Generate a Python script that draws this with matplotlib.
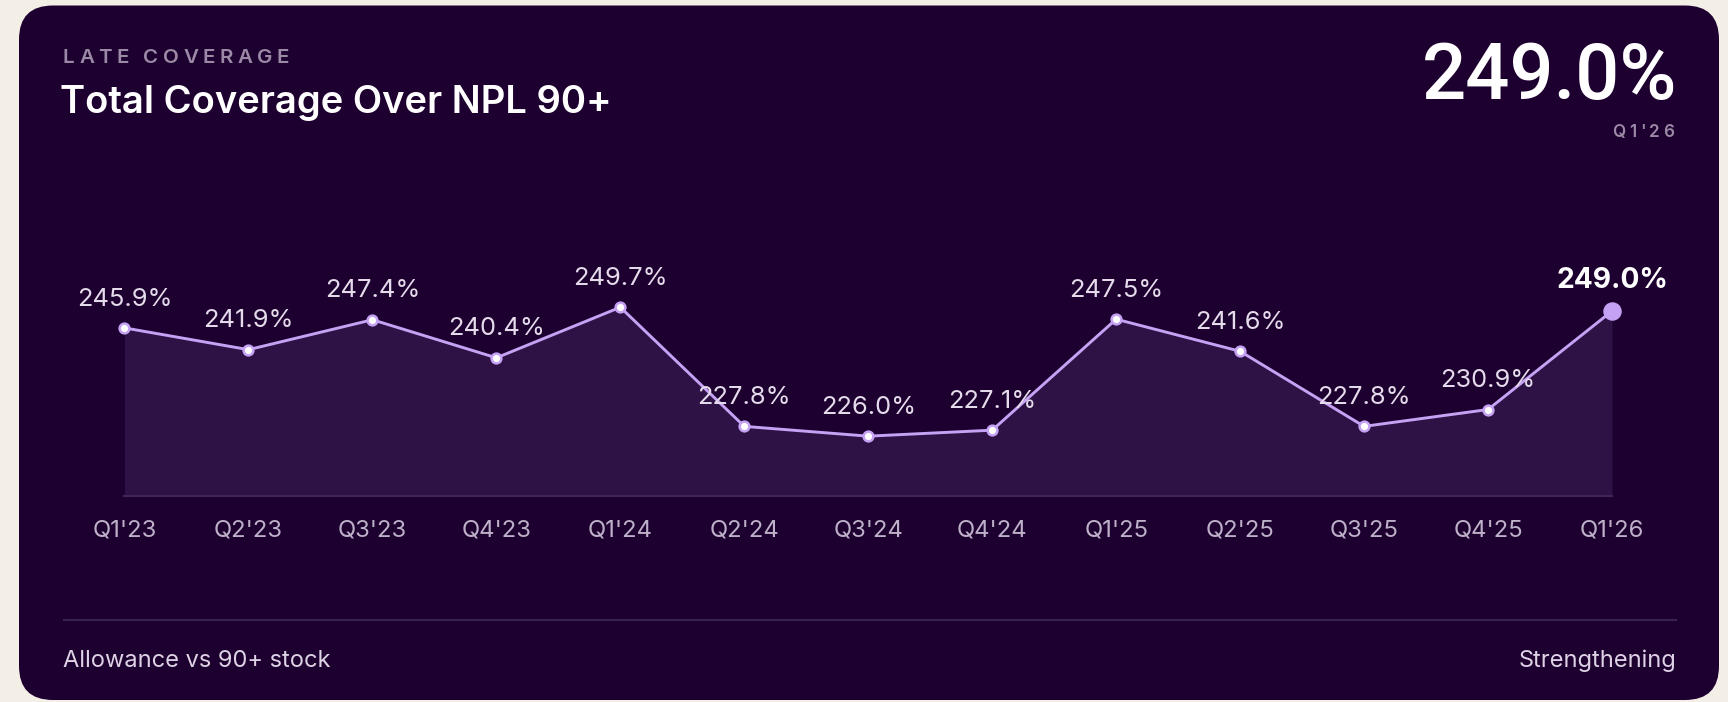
import matplotlib
matplotlib.use("Agg")
import matplotlib.pyplot as plt
from matplotlib.patches import FancyBboxPatch
from matplotlib import font_manager, ft2font

# ---------------- data ----------------
quarters = ["Q1'23", "Q2'23", "Q3'23", "Q4'23", "Q1'24", "Q2'24", "Q3'24",
            "Q4'24", "Q1'25", "Q2'25", "Q3'25", "Q4'25", "Q1'26"]
coverage = [245.9, 241.9, 247.4, 240.4, 249.7, 227.8, 226.0,
            227.1, 247.5, 241.6, 227.8, 230.9, 249.0]
eyebrow = "LATE COVERAGE"
title = "Total Coverage Over NPL 90+"
headline = "249.0%"
headline_period = "Q1'26"
footer_left = "Allowance vs 90+ stock"
footer_right = "Strengthening"

# ---------------- style ----------------
CREAM = "#F3EFE7"
CARD = "#1E0030"
FILL = "#2E1245"
LINE = "#C6A2F4"
BASE = "#3E2758"
TICK = "#BDB1C9"
VAL = "#E4DBEB"
MUTED = "#9A8AA6"
SEP = "#3A2350"
FOOT = "#DDD3E5"
FAM = ["Inter", "DejaVu Sans"]

W, H = 1728, 702
fig = plt.figure(figsize=(W / 100, H / 100), dpi=100, facecolor=CREAM)

# background (pixel coordinates)
bg = fig.add_axes([0, 0, 1, 1])
bg.set_xlim(0, W)
bg.set_ylim(H, 0)
bg.axis("off")
bg.add_patch(FancyBboxPatch((19, 5.5), 1719 - 19, 700 - 5.5,
                            boxstyle="round,pad=0,rounding_size=34",
                            fc=CARD, ec="none"))


def advances(s, size, weight="normal"):
    fp = font_manager.FontProperties(family=FAM, weight=weight, size=size)
    f = ft2font.FT2Font(font_manager.findfont(fp))
    f.set_size(size, 100)
    return [f.load_char(ord(c)).linearHoriAdvance / 65536 for c in s]


def tracked(x, y, s, size, total_w, color, ha="left", weight="normal"):
    adv = advances(s, size, weight)
    track = (total_w - sum(adv)) / (len(s) - 1)
    width = sum(adv) + track * (len(s) - 1)
    cx = x if ha == "left" else x - width
    for c, a in zip(s, adv):
        bg.text(cx, y, c, fontsize=size, color=color, family=FAM,
                weight=weight, va="baseline", ha="left")
        cx += a + track


tracked(63, 63.3, eyebrow, 14.8, 226, MUTED, weight="semibold")
bg.text(60, 113, title, fontsize=27.5, color="white", family=FAM,
        weight="semibold", va="baseline", ha="left")
bg.text(1677, 99, headline, fontsize=56, color="white",
        family=["Roboto", "DejaVu Sans"], weight="medium",
        va="baseline", ha="right")
tracked(1674, 136.7, headline_period, 12.3, 62, MUTED, ha="right", weight="semibold")

bg.plot([64, 1676], [620, 620], color=SEP, lw=1.5)
bg.text(63, 667, footer_left, fontsize=17, color=FOOT, family=FAM,
        va="baseline", ha="left")
bg.text(1676, 667, footer_right, fontsize=17, color=FOOT, family=FAM,
        va="baseline", ha="right")

# ---------------- chart ----------------
x0, x1 = 124.5, 1612
ytop, ybot = 160, 496
ymin = 215.0
px_per_unit = 5.44
ax = fig.add_axes([x0 / W, 1 - ybot / H, (x1 - x0) / W, (ybot - ytop) / H])
ax.set_facecolor("none")
xs = list(range(len(quarters)))
ax.set_xlim(0, len(quarters) - 1)
ax.set_ylim(ymin, ymin + (ybot - ytop) / px_per_unit)

ax.fill_between(xs, coverage, ymin, color=FILL, lw=0, zorder=1)
ax.axhline(ymin, color=BASE, lw=1.5, zorder=2, clip_on=False)
ax.plot(xs, coverage, color=LINE, lw=2.1, zorder=3, clip_on=False)
ax.plot(xs[:-1], coverage[:-1], ls="none", marker="o", ms=7, mfc="white",
        mec=LINE, mew=1.8, zorder=4, clip_on=False)
ax.plot(xs[-1:], coverage[-1:], ls="none", marker="o", ms=12.3, mfc=LINE,
        mec=LINE, zorder=4, clip_on=False)

for i, (xv, v) in enumerate(zip(xs, coverage)):
    last = i == len(xs) - 1
    ax.annotate(f"{v:.1f}%", (xv, v), xytext=(0, 16.5 if last else 16.1),
                textcoords="offset points", ha="center", va="baseline",
                fontsize=20.3 if last else 18.3,
                color="white" if last else VAL,
                weight="bold" if last else "normal", family=FAM,
                zorder=5, annotation_clip=False)

ax.set_xticks(xs, quarters)
ax.tick_params(axis="x", length=0, pad=29.3, labelsize=17.2, labelcolor=TICK)
for lab in ax.get_xticklabels():
    lab.set_family(FAM)
    lab.set_va("baseline")
ax.set_yticks([])
for s in ax.spines.values():
    s.set_visible(False)

fig.savefig("out.png", dpi=100, facecolor=CREAM)
